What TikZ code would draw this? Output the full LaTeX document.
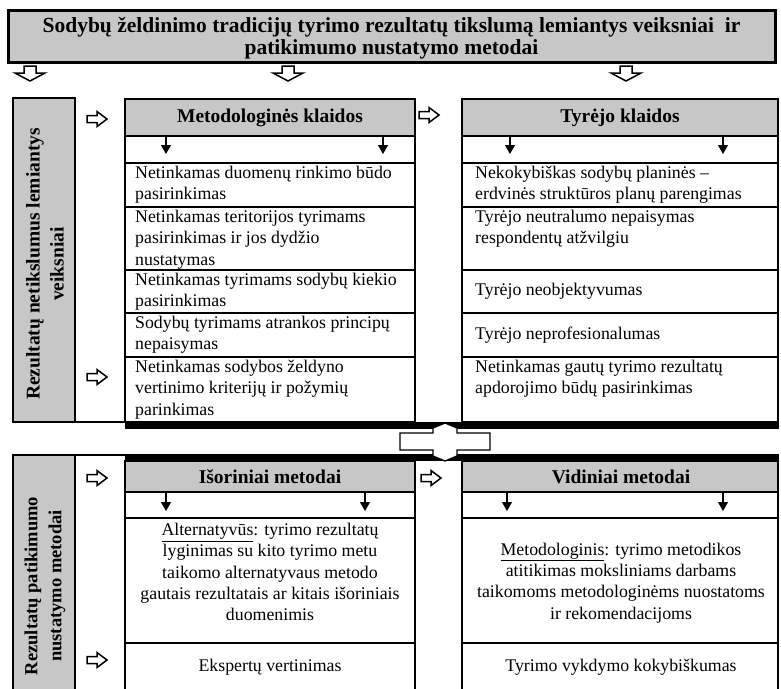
\documentclass[tikz,border=0pt]{standalone}
\usepackage{fontspec}
\setmainfont{Liberation Serif}
\usetikzlibrary{arrows.meta}
\definecolor{boxgray}{gray}{0.78}
\begin{document}
\begin{tikzpicture}[x=1pt,y=-1pt,
  grid/.style={draw=black,line width=1.6pt},
  graybox/.style={grid,fill=boxgray},
  body/.style={font=\fontsize{17.8}{21.3}\selectfont,inner sep=0pt},
  hdr/.style={font=\bfseries\fontsize{19.5}{24}\selectfont,inner sep=0pt},
  smallarrow/.style={line width=1.2pt,-{Triangle[width=10pt,length=9pt]}},
  openR/.pic={\draw[line width=1.5pt,fill=white] (-10,-3.5) -- (0,-3.5) -- (0,-7.5) -- (10,0) -- (0,7.5) -- (0,3.5) -- (-10,3.5) -- cycle;},
  openD/.pic={\draw[line width=1.5pt,fill=white] (-6,-7) -- (6,-7) -- (6,0) -- (15,0) -- (0,8) -- (-15,0) -- (-6,0) -- cycle;}
]
\fill[white] (0,0) rectangle (781,688);
\clip (0,0) rectangle (781,688);

% title
\draw[graybox,line width=3pt] (8,10) rectangle (775,62);
\node[font=\bfseries\fontsize{21.5}{22}\selectfont,align=center,inner sep=0pt] (title) at (391.5,38)
  {Sodybų želdinimo tradicijų tyrimo rezultatų tikslumą lemiantys veiksniai\ \ ir\\patikimumo nustatymo metodai};
\pic at (30,73) {openD};
\pic at (288,73) {openD};
\pic at (626,73) {openD};

% ---------- upper block ----------
\draw[graybox] (13,98) rectangle (75,422);
\draw[grid] (75,422) -- (125,422);
\node[hdr,rotate=90,align=center] (lab1) at (45,264) {Rezultatų netikslumus lemiantys\\veiksniai};
\pic at (97,119) {openR};
\pic at (97,377) {openR};

% Metodologines table
\draw[graybox] (125,99) rectangle (415,136);
\draw[grid] (125,136) rectangle (415,163);
\draw[grid] (125,163) rectangle (415,207);
\draw[grid] (125,207) rectangle (415,270);
\draw[grid] (125,270) rectangle (415,313);
\draw[grid] (125,313) rectangle (415,357);
\draw[grid] (125,357) rectangle (415,422);
\node[hdr] (h1) at (270,117.5) {Metodologinės klaidos};
\draw[smallarrow] (166,136) -- (166,154);
\draw[smallarrow] (383,136) -- (383,154);
\node[body,anchor=north west,align=left] (m1) at (135,166) {Netinkamas duomenų rinkimo būdo\\pasirinkimas};
\node[body,anchor=north west,align=left] (m2) at (135,210) {Netinkamas teritorijos tyrimams\\pasirinkimas ir jos dydžio\\nustatymas};
\node[body,anchor=north west,align=left] (m3) at (135,273) {Netinkamas tyrimams sodybų kiekio\\pasirinkimas};
\node[body,anchor=north west,align=left] (m4) at (135,316) {Sodybų tyrimams atrankos principų\\nepaisymas};
\node[body,anchor=north west,align=left] (m5) at (135,360) {Netinkamas sodybos želdyno\\vertinimo kriterijų ir požymių\\parinkimas};

\pic at (429,115) {openR};

% Tyrejo table
\draw[graybox] (462,99) rectangle (778,136);
\draw[grid] (462,136) rectangle (778,163);
\draw[grid] (462,163) rectangle (778,207);
\draw[grid] (462,207) rectangle (778,270);
\draw[grid] (462,270) rectangle (778,313);
\draw[grid] (462,313) rectangle (778,357);
\draw[grid] (462,357) rectangle (778,422);
\node[hdr] (h2) at (620,117.5) {Tyrėjo klaidos};
\draw[smallarrow] (510,136) -- (510,154);
\draw[smallarrow] (723,136) -- (723,154);
\node[body,anchor=north west,align=left] (t1) at (475,166) {Nekokybiškas sodybų planinės –\\erdvinės struktūros planų parengimas};
\node[body,anchor=north west,align=left] (t2) at (475,210) {Tyrėjo neutralumo nepaisymas\\respondentų atžvilgiu};
\node[body,anchor=west] (t3) at (475,291.5) {Tyrėjo neobjektyvumas};
\node[body,anchor=west] (t4) at (475,335) {Tyrėjo neprofesionalumas};
\node[body,anchor=north west,align=left] (t5) at (475,360) {Netinkamas gautų tyrimo rezultatų\\apdorojimo būdų pasirinkimas};

\fill (125,422) rectangle (779,429);

% ---------- lower block ----------
\fill (125,454) rectangle (779,461);
\draw[graybox] (13,455) rectangle (75,700);
\draw[grid] (75,455) -- (125,455);
\node[hdr,rotate=90,align=center,font=\bfseries\fontsize{18.5}{24}\selectfont] (lab2) at (45,586) {Rezultatų patikimumo\\nustatymo metodai};
\pic at (97,478) {openR};
\pic at (97,660) {openR};

\draw[graybox] (125,461) rectangle (415,492);
\draw[grid] (125,492) rectangle (415,518);
\draw[grid] (125,518) rectangle (415,643);
\draw[grid] (125,643) rectangle (415,700);
\node[hdr] (h3) at (270,477) {Išoriniai metodai};
\draw[smallarrow] (166,492) -- (166,511);
\draw[smallarrow] (365,492) -- (365,511);
\node[body,align=center,anchor=north] (i1) at (270,523) {\underline{Alternatyvūs}: tyrimo rezultatų\\lyginimas su kito tyrimo metu\\taikomo alternatyvaus metodo\\gautais rezultatais ar kitais išoriniais\\duomenimis};
\node[body] (i2) at (270,667) {Ekspertų vertinimas};

\pic at (431,478) {openR};

\draw[graybox] (462,461) rectangle (778,492);
\draw[grid] (462,492) rectangle (778,518);
\draw[grid] (462,518) rectangle (778,643);
\draw[grid] (462,643) rectangle (778,700);
\node[hdr] (h4) at (621,477) {Vidiniai metodai};
\draw[smallarrow] (507,492) -- (507,511);
\draw[smallarrow] (723,492) -- (723,511);
\node[body,align=center] (v1) at (621,583) {\underline{Metodologinis}: tyrimo metodikos\\atitikimas moksliniams darbams\\taikomoms metodologinėms nuostatoms\\ir rekomendacijoms};
\node[body] (v2) at (621,667) {Tyrimo vykdymo kokybiškumas};

% connector between blocks
\draw[line width=1.3pt,fill=white] (400,433) -- (433,433) -- (433,428) -- (445,423) -- (457,428) -- (457,433) -- (490,433) -- (490,450) -- (457,450) -- (457,456) -- (445,461) -- (433,456) -- (433,450) -- (400,450) -- cycle;
\end{tikzpicture}
\end{document}
